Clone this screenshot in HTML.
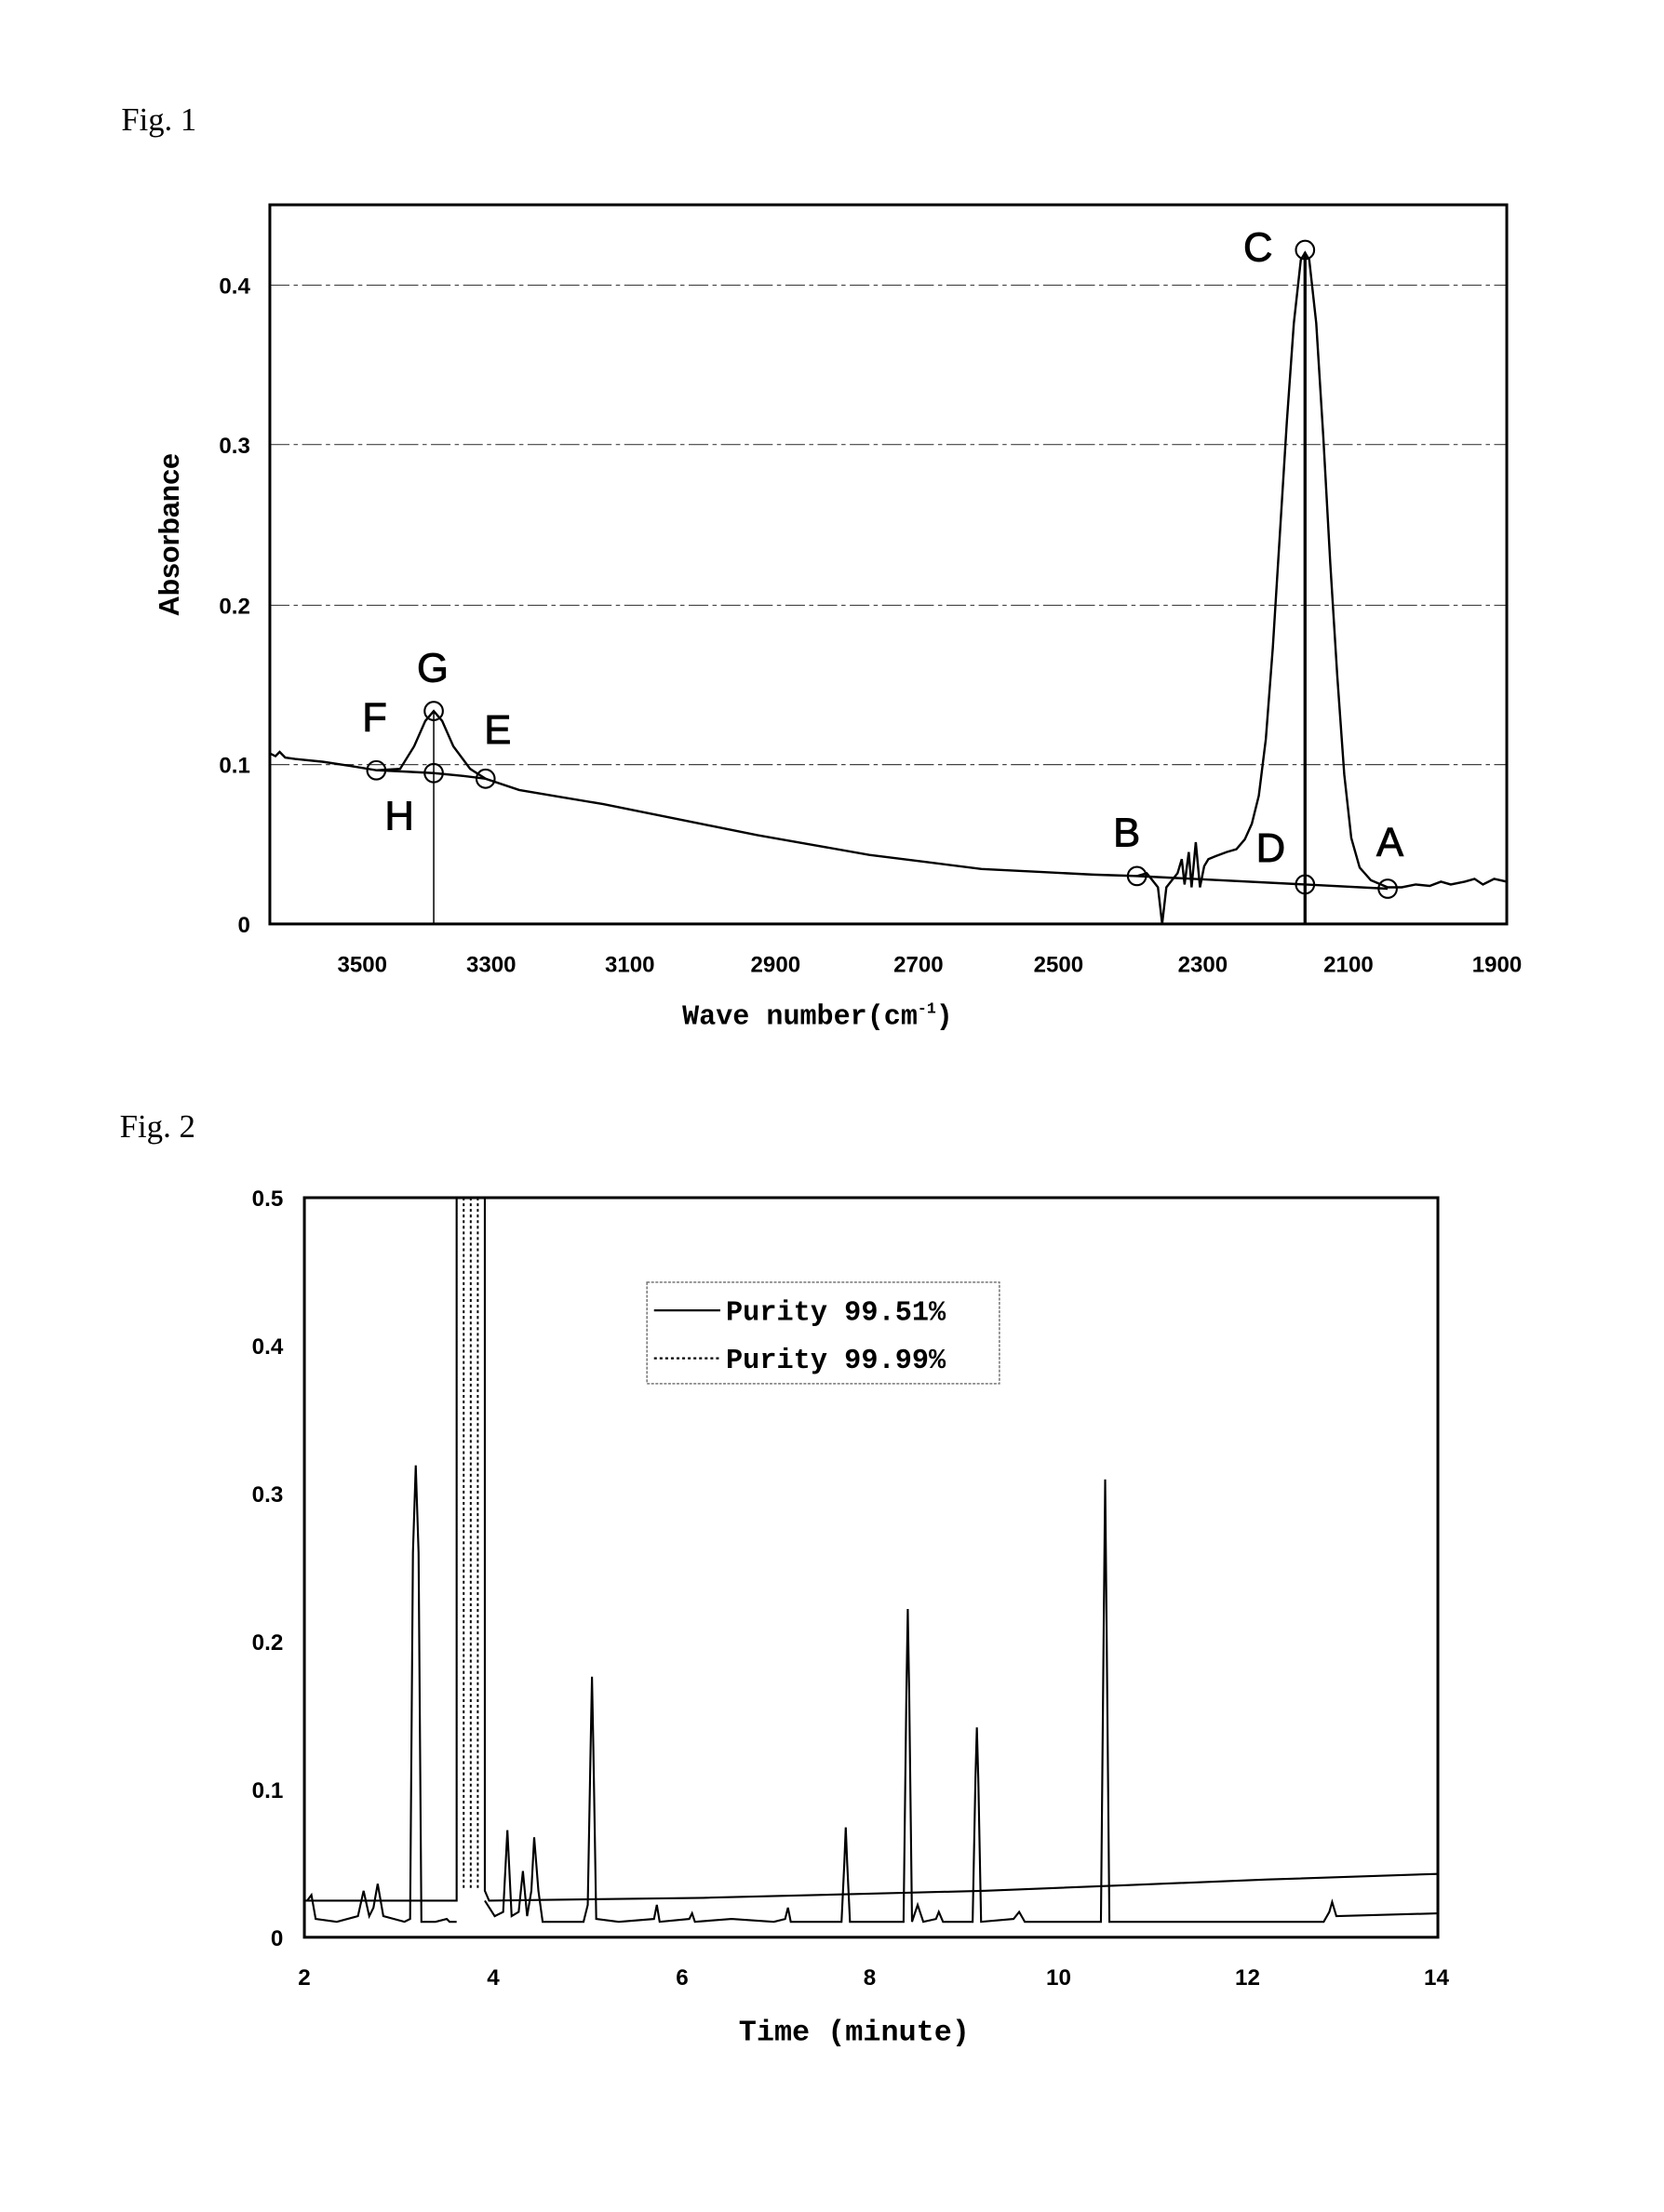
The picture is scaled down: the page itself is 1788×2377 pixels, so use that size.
<!DOCTYPE html>
<html><head><meta charset="utf-8"><style>
html,body{margin:0;padding:0;background:#fff;}
svg{display:block;}
.t{font-family:"Liberation Sans",sans-serif;font-weight:bold;font-size:16px;fill:#000;}
.fig{font-family:"Liberation Serif",serif;font-size:23px;fill:#000;}
.lbl{font-family:"Liberation Sans",sans-serif;font-size:29px;fill:#000;stroke:#000;stroke-width:0.6;}
.mono{font-family:"Liberation Mono",monospace;font-weight:bold;font-size:20px;fill:#000;}
</style></head><body>
<svg width="1788" height="2377" viewBox="0 0 1200 1595.3" xmlns="http://www.w3.org/2000/svg">
<g transform="matrix(1.0102,0,0,1.017,0.64,-0.78)">
<text class="fig" x="86" y="93">Fig. 1</text>
<g stroke="#444" stroke-width="0.8" stroke-dasharray="14,3,3,3">
<line x1="192" y1="203" x2="1075" y2="203"/>
<line x1="192" y1="316" x2="1075" y2="316"/>
<line x1="192" y1="430" x2="1075" y2="430"/>
<line x1="192" y1="543" x2="1075" y2="543"/>
</g>
<rect x="192" y="146" width="883" height="510" fill="none" stroke="#000" stroke-width="2"/>
<g class="t" text-anchor="end">
<text x="178" y="209">0.4</text><text x="178" y="322">0.3</text><text x="178" y="436">0.2</text><text x="178" y="549">0.1</text><text x="178" y="662">0</text>
</g>
<g class="t" text-anchor="middle">
<text x="258" y="690">3500</text><text x="350" y="690">3300</text><text x="449" y="690">3100</text><text x="553" y="690">2900</text><text x="655" y="690">2700</text><text x="755" y="690">2500</text><text x="858" y="690">2300</text><text x="962" y="690">2100</text><text x="1068" y="690">1900</text>
</g>
<text class="mono" x="583" y="727" text-anchor="middle" style="font-size:20px">Wave number(cm<tspan font-size="11" dy="-8">-1</tspan><tspan dy="8">)</tspan></text>
<text class="t" transform="translate(127,380) rotate(-90)" text-anchor="middle" style="font-size:20px">Absorbance</text>
<g fill="none" stroke="#000" stroke-width="1.6">
<path d="M192,535 L196,537 L199,534 L203,538 L210,539 L230,541 L250,544 L268,547 L290,548 L309,549 L330,551 L346,553 L370,561 L400,566 L430,571 L460,577 L500,585 L540,593 L580,600 L620,607 L660,612 L700,617 L740,619 L780,621 L811,622 L818,620 L822,625 L826,630 L829,656 L832,630 L836,625 L840,620 L843,610 L845,628 L848,605 L850,630 L853,598 L856,630 L859,615 L862,610 L867,608 L875,605 L882,603 L888,596 L893,585 L898,565 L903,525 L908,460 L913,380 L918,300 L923,230 L928,185 L931,180 L934,185 L939,230 L944,310 L949,400 L954,480 L959,550 L964,595 L970,616 L978,625 L990,630 L1000,630 L1010,628 L1020,629 L1028,626 L1035,628 L1045,626 L1052,624 L1058,628 L1066,624 L1075,626"/>
<path d="M811,622 L931,628 L990,631"/>
<path d="M268,547 L285,546 L295,530 L303,512 L309,505 L315,512 L323,530 L335,546 L346,553"/>
<line x1="931" y1="180" x2="931" y2="656" stroke-width="2.2"/>
<line x1="309" y1="505" x2="309" y2="656" stroke-width="1"/>
</g>
<g fill="none" stroke="#000" stroke-width="1.4">
<circle cx="268" cy="547" r="6.5"/><circle cx="309" cy="505" r="6.5"/><circle cx="309" cy="549" r="6.5"/><circle cx="346" cy="553" r="6.5"/>
<circle cx="811" cy="622" r="6.5"/><circle cx="931" cy="178" r="6.5"/><circle cx="931" cy="628" r="6.5"/><circle cx="990" cy="631" r="6.5"/>
</g>
<g class="lbl">
<text x="258" y="519">F</text><text x="297" y="484">G</text><text x="345" y="528">E</text><text x="274" y="589">H</text>
<text x="794" y="601">B</text><text x="887" y="186">C</text><text x="896" y="612">D</text><text x="982" y="608">A</text>
</g>
</g>

<g transform="matrix(1.0167,0,0,1.016,-1.12,2.2)">
<text class="fig" x="86" y="805">Fig. 2</text>
<rect x="217" y="848" width="804" height="525" fill="none" stroke="#000" stroke-width="2"/>
<g class="t" text-anchor="end">
<text x="202" y="854">0.5</text><text x="202" y="959">0.4</text><text x="202" y="1064">0.3</text><text x="202" y="1169">0.2</text><text x="202" y="1274">0.1</text><text x="202" y="1379">0</text>
</g>
<g class="t" text-anchor="middle">
<text x="217" y="1407">2</text><text x="351" y="1407">4</text><text x="485" y="1407">6</text><text x="618" y="1407">8</text><text x="752" y="1407">10</text><text x="886" y="1407">12</text><text x="1020" y="1407">14</text>
</g>
<text class="mono" x="607" y="1446" text-anchor="middle" style="font-size:21px">Time (minute)</text>
<g fill="none" stroke="#000" stroke-width="1.4">
<path d="M217,1347 L325,1347 L325,848 M345,848 L345,1340 L348,1347 L500,1345 L700,1340 L800,1336 L900,1332 L1021,1328"/>
<path d="M219,1347 L222,1343 L225,1360 L240,1362 L255,1358 L259,1340 L263,1358 L266,1352 L269,1335 L273,1358 L288,1362 L292,1360 L294,1100 L296,1038 L298,1100 L300,1362 L310,1362 L318,1360 L320,1362 L325,1362"/>
<path d="M345,1347 L352,1358 L358,1355 L361,1297 L364,1358 L369,1355 L372,1326 L375,1358 L378,1340 L380,1302 L383,1340 L386,1362 L415,1362 L418,1350 L420,1240 L421,1188 L422,1240 L424,1360 L440,1362 L465,1360 L467,1350 L469,1362 L490,1360 L492,1356 L494,1362 L520,1360 L550,1362 L558,1360 L560,1352 L562,1362 L598,1362 L600,1320 L601,1295 L602,1320 L604,1362 L642,1362 L644,1200 L645,1140 L646,1200 L648,1362 L652,1350 L656,1362 L665,1360 L667,1355 L670,1362 L691,1362 L693,1260 L694,1224 L695,1260 L697,1362 L720,1360 L724,1355 L728,1362 L782,1362 L784,1150 L785,1048 L786,1150 L788,1362 L800,1362 L940,1362 L944,1355 L946,1348 L949,1358 L1021,1356"/>
</g>
<g fill="none" stroke="#000" stroke-width="1.3" stroke-dasharray="2,2">
<line x1="330" y1="848" x2="330" y2="1340"/>
<line x1="335" y1="848" x2="335" y2="1340"/>
<line x1="340" y1="848" x2="340" y2="1340"/>
</g>
<rect x="460" y="908" width="250" height="72" fill="#fff" stroke="#777" stroke-width="1" stroke-dasharray="2,1"/>
<line x1="465" y1="928" x2="512" y2="928" stroke="#000" stroke-width="1.5"/>
<line x1="465" y1="962" x2="512" y2="962" stroke="#000" stroke-width="1.5" stroke-dasharray="2,2"/>
<text class="mono" x="516" y="935">Purity 99.51%</text>
<text class="mono" x="516" y="969">Purity 99.99%</text>
</g>
</svg>
</body></html>
